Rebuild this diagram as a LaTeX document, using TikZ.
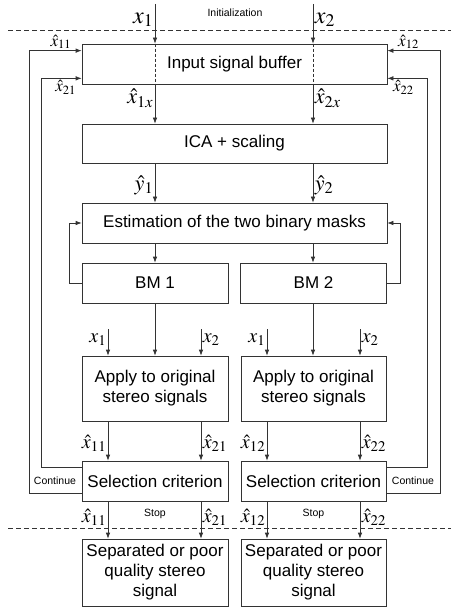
\documentclass[tikz,border=0pt]{standalone}
\usepackage{mathptmx}
\usepackage[no-math]{fontspec}
\setmainfont{Liberation Sans}
\usetikzlibrary{arrows.meta,positioning}

\newcommand{\fs}[1]{\fontsize{#1}{#1}\selectfont}

\begin{document}
\begin{tikzpicture}[x=1pt,y=-1pt,font=\fs{17},
  line width=0.7pt,draw=black!80,
  >={Latex[length=6pt,width=4.5pt]},
  blk/.style={draw=black!80,minimum width=146pt,minimum height=40pt,inner sep=0pt,align=center},
  wideblk/.style={blk,minimum width=305pt},
  small/.style={font=\fs{10.5}},
  lbl/.style={inner sep=1.5pt,font=\fs{20}},
  sep/.style={dash pattern=on 5pt off 3pt,line width=0.6pt}]

\useasboundingbox (0,0) rectangle (451,609);

% blocks
\node[wideblk] (buf) at (234.5,64) {Input signal buffer};
\node[wideblk,minimum height=39pt] (ica) at (234.5,143.5) {ICA + scaling};
\node[wideblk] (est) at (234.5,223) {Estimation of the two binary masks};
\node[blk] (bm1) at (155,283) {BM 1};
\node[blk] (bm2) at (313.5,283) {BM 2};
\node[blk,minimum height=65pt] (app1) at (155,388.5) {Apply to original\\[3pt]stereo signals};
\node[blk,minimum height=65pt,minimum width=145pt] (app2) at (313.5,388.5) {Apply to original\\[3pt]stereo signals};
\node[blk] (sel1) at (155,481) {Selection criterion};
\node[blk,minimum width=145pt] (sel2) at (313.5,481) {Selection criterion};
\node[blk,minimum height=67pt] (out1) at (155,572.5) {Separated or poor\\[3pt]quality stereo\\[3pt]signal};
\node[blk,minimum height=67pt,minimum width=145pt] (out2) at (313.5,572.5) {Separated or poor\\[3pt]quality stereo\\[3pt]signal};

% columns
\coordinate (in1) at (155,4);
\coordinate (in2) at (313,4);
\coordinate (c1) at (108,329);
\coordinate (c2) at (201,329);
\coordinate (c3) at (267,329);
\coordinate (c4) at (360,329);

% initialization / stop lines
\draw[sep] (8,30) -- (451,30);
\draw[sep] (8,528) -- (451,528);
\node[small] (init) at (235,13) {Initialization};
\node[small] (stop1) at (155,514) {Stop};
\node[small] (stop2) at (313.5,514) {Stop};
\node[small] (cont1) at (55,481) {Continue};
\node[small] (cont2) at (413,481) {Continue};

% inputs
\draw[->] (in1) -- node[lbl,left,pos=0.4,font=\fs{24}] (lx1) {$x_1$} (in1 |- buf.north);
\draw[->] (in2) -- node[lbl,right,pos=0.4,font=\fs{24}] (lx2) {$x_2$} (in2 |- buf.north);
\draw[dash pattern=on 3pt off 2pt,line width=0.5pt] (in1 |- buf.north) -- (in1 |- buf.south);
\draw[dash pattern=on 3pt off 2pt,line width=0.5pt] (in2 |- buf.north) -- (in2 |- buf.south);

% main chain
\draw[->] (buf.south -| in1) -- node[lbl,left,pos=0.35,font=\fs{22}] (lb1) {$\hat{x}_{1x}$} (ica.north -| in1);
\draw[->] (buf.south -| in2) -- node[lbl,right,pos=0.35,font=\fs{22}] (lb2) {$\hat{x}_{2x}$} (ica.north -| in2);
\draw[->] (ica.south -| in1) -- node[lbl,left,pos=0.55,font=\fs{22}] (ly1) {$\hat{y}_1$} (est.north -| in1);
\draw[->] (ica.south -| in2) -- node[lbl,right,pos=0.55,font=\fs{22}] (ly2) {$\hat{y}_2$} (est.north -| in2);
\draw[->] (est.south -| in1) -- (bm1.north -| in1);
\draw[->] (est.south -| in2) -- (bm2.north -| in2);
\draw[->] (bm1.west) -- ++(-12,0) |- (est.west);
\draw[->] (bm2.east) -- ++(13,0) |- (est.east);
\draw[->] (bm1.south -| in1) -- (app1.north -| in1);
\draw[->] (bm2.south -| in2) -- (app2.north -| in2);

% original signals
\draw[->] (c1) -- node[lbl,left,pos=0.4] (ax1) {$x_1$} (app1.north -| c1);
\draw[->] (c2) -- node[lbl,right,pos=0.4] (ax2) {$x_2$} (app1.north -| c2);
\draw[->] (c3) -- node[lbl,left,pos=0.4] (ax3) {$x_1$} (app2.north -| c3);
\draw[->] (c4) -- node[lbl,right,pos=0.4] (ax4) {$x_2$} (app2.north -| c4);

% to selection
\draw[->] (app1.south -| c1) -- node[lbl,left,pos=0.55] (s11) {$\hat{x}_{11}$} (sel1.north -| c1);
\draw[->] (app1.south -| c2) -- node[lbl,right,pos=0.55] (s21) {$\hat{x}_{21}$} (sel1.north -| c2);
\draw[->] (app2.south -| c3) -- node[lbl,left,pos=0.55] (s12) {$\hat{x}_{12}$} (sel2.north -| c3);
\draw[->] (app2.south -| c4) -- node[lbl,right,pos=0.55] (s22) {$\hat{x}_{22}$} (sel2.north -| c4);

% stop
\draw[->] (sel1.south -| c1) -- node[lbl,left,pos=0.42] (o11) {$\hat{x}_{11}$} (out1.north -| c1);
\draw[->] (sel1.south -| c2) -- node[lbl,right,pos=0.42] (o21) {$\hat{x}_{21}$} (out1.north -| c2);
\draw[->] (sel2.south -| c3) -- node[lbl,left,pos=0.42] (o12) {$\hat{x}_{12}$} (out2.north -| c3);
\draw[->] (sel2.south -| c4) -- node[lbl,right,pos=0.42] (o22) {$\hat{x}_{22}$} (out2.north -| c4);

% continue
\draw[->] ([yshift=8pt]sel1.south west) -- ++(-52,0) |- node[lbl,above,pos=0.8,font=\fs{17}] (f11) {$\hat{x}_{11}$} ([yshift=-7pt]buf.north west);
\draw[->] ([yshift=-7pt]sel1.north west) -- ++(-40,0) |- node[lbl,below,pos=0.8,font=\fs{17}] (f21) {$\hat{x}_{21}$} ([yshift=6pt]buf.south west);
\draw[->] ([yshift=8pt]sel2.south east) -- ++(54,0) |- node[lbl,above,pos=0.8,font=\fs{17}] (f12) {$\hat{x}_{12}$} ([yshift=-7pt]buf.north east);
\draw[->] ([yshift=-7pt]sel2.north east) -- ++(41,0) |- node[lbl,below,pos=0.8,font=\fs{17}] (f22) {$\hat{x}_{22}$} ([yshift=6pt]buf.south east);
\end{tikzpicture}
\end{document}
